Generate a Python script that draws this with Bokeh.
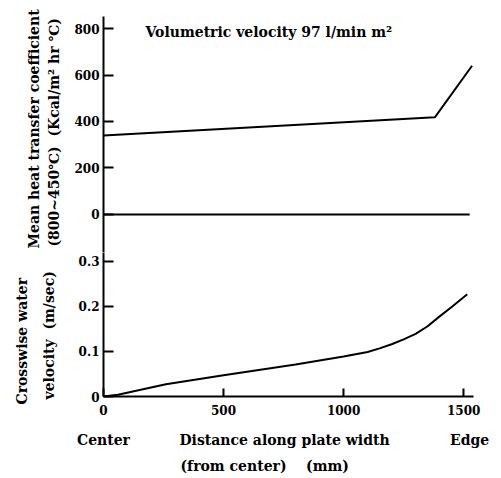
import math
from bokeh.plotting import figure
from bokeh.layouts import column
from bokeh.models import FixedTicker, Label, Range1d, LinearAxis, Title
from bokeh.embed import file_html
from bokeh.resources import INLINE

# ---- data ----
htc_x = [0, 1380, 1535]
htc_y = [340, 418, 640]
zero_x = [0, 1525]
zero_y = [0, 0]
vel_x = [0, 60, 260, 500, 800, 1000, 1100, 1150, 1200, 1250, 1300, 1350, 1400, 1450, 1515]
vel_y = [0, 0.004, 0.027, 0.047, 0.071, 0.089, 0.099, 0.107, 0.116, 0.127, 0.139, 0.156, 0.178, 0.199, 0.227]
htc_ticks = [0, 200, 400, 600, 800]
vel_ticks = [0, 0.1, 0.2, 0.3]
vel_tick_labels = ["0", "0.1", "0.2", "0.3"]
x_ticks = [0, 500, 1000, 1500]
x_note_pos = [0, 754, 1525]
x_note_labels = ["Center", "Distance along plate width", "Edge"]

NB = "\u00a0"
FONT = "DejaVu Serif"
FS = "12px"
LFS = "14px"
W = 492

def style_axis(ax):
    ax.axis_line_width = 2
    ax.axis_line_color = "black"
    ax.major_tick_line_width = 2
    ax.major_tick_line_color = "black"
    ax.minor_tick_line_color = None
    ax.major_label_text_font = FONT
    ax.major_label_text_font_size = FS
    ax.major_label_text_font_style = "bold"
    ax.major_label_text_color = "black"

def base(h, yr, top, bottom):
    p = figure(width=W, height=h, output_backend="svg", toolbar_location=None,
               x_range=Range1d(0, 1541), y_range=yr,
               min_border_left=103, min_border_right=19,
               min_border_top=top, min_border_bottom=bottom)
    p.outline_line_color = None
    p.xgrid.visible = False
    p.ygrid.visible = False
    p.background_fill_color = "white"
    return p

def side_title(p, text, place, standoff, align="center", offset=0):
    p.add_layout(Title(text=text, align=align, offset=offset, standoff=standoff,
                       text_font=FONT, text_font_size=LFS, text_font_style="bold",
                       text_color="black"), place)

# ---- upper panel ----
p1 = base(252, Range1d(-164, 852), 16, 0)
p1.xaxis.visible = False
ax = p1.yaxis[0]
style_axis(ax)
ax.ticker = FixedTicker(ticks=htc_ticks)
ax.major_tick_in = 10
ax.major_tick_out = 0
ax.major_label_standoff = 4
p1.line(htc_x, htc_y, line_width=2, line_color="black")
p1.line(zero_x, zero_y, line_width=2, line_color="black")
p1.add_layout(Label(x=175, y=787, text="Volumetric velocity 97 l/min m²",
                    text_align="left", text_baseline="middle", text_font=FONT,
                    text_font_size=LFS, text_font_style="bold", text_color="black"))
side_title(p1, f"(800~450℃){NB}{NB}(Kcal/m² hr ℃)", "left", 20, align="left", offset=6)
side_title(p1, "Mean heat transfer coefficient", "left", -16, align="left", offset=4)

# ---- lower panel ----
p2 = base(226, Range1d(0, 0.3199), 0, 81)
ay = p2.yaxis[0]
style_axis(ay)
ay.ticker = FixedTicker(ticks=vel_ticks)
ay.major_label_overrides = {t: s for t, s in zip(vel_ticks, vel_tick_labels)}
ay.major_tick_in = 10
ay.major_tick_out = 0
ay.major_label_standoff = 4
axx = p2.xaxis[0]
style_axis(axx)
axx.ticker = FixedTicker(ticks=x_ticks)
axx.major_tick_in = 8
axx.major_tick_out = 0
axx.major_label_standoff = 8
p2.line(vel_x, vel_y, line_width=2, line_color="black")

ax2 = LinearAxis(ticker=FixedTicker(ticks=x_note_pos),
                 major_label_overrides={t: s for t, s in zip(x_note_pos, x_note_labels)})
ax2.axis_line_color = None
ax2.major_tick_line_color = None
ax2.minor_tick_line_color = None
ax2.major_tick_in = 0
ax2.major_tick_out = 0
ax2.major_label_standoff = 14
ax2.major_label_text_font = FONT
ax2.major_label_text_font_size = LFS
ax2.major_label_text_font_style = "bold"
ax2.major_label_text_color = "black"
p2.add_layout(ax2, "below")
side_title(p2, f"(from center){NB}{NB}{NB}{NB}(mm)", "below", 10, align="left", offset=77)

side_title(p2, f"velocity{NB}{NB}(m/sec)", "left", 37, align="left", offset=-3)
side_title(p2, "Crosswise water", "left", -18, align="left", offset=-8)

layout = column(p1, p2, spacing=0)
open("out.html", "w").write(file_html(layout, INLINE))
